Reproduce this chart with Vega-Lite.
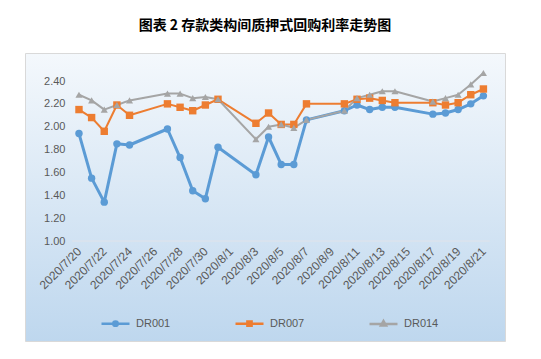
{
  "$schema": "https://vega.github.io/schema/vega-lite/v6.json",
  "autosize": {"type": "none"},
  "width": 480,
  "height": 288,
  "padding": {"left": 25, "top": 53, "right": 36, "bottom": 18},
  "background": "white",
  "title": {
    "text": "图表 2 存款类构间质押式回购利率走势图",
    "font": "Noto Sans CJK SC",
    "fontSize": 14,
    "fontWeight": "bold",
    "color": "#000000",
    "anchor": "middle",
    "offset": 20
  },
  "config": {
    "view": {
      "fill": {"gradient": "linear", "x1": 0, "y1": 0, "x2": 0, "y2": 1,
        "stops": [{"offset": 0, "color": "#F4F8FC"}, {"offset": 1, "color": "#BED7EE"}]},
      "stroke": "#D9D9D9",
      "strokeWidth": 1
    },
    "axis": {"labelFont": "Liberation Sans", "labelColor": "#595959", "domain": false, "ticks": false, "grid": false, "title": null},
    "legend": {"labelFont": "Liberation Sans", "labelColor": "#595959"}
  },
  "data": {"values": [
    {"date": "2020-07-20", "series": "DR001", "value": 1.94},
    {"date": "2020-07-21", "series": "DR001", "value": 1.55},
    {"date": "2020-07-22", "series": "DR001", "value": 1.34},
    {"date": "2020-07-23", "series": "DR001", "value": 1.85},
    {"date": "2020-07-24", "series": "DR001", "value": 1.84},
    {"date": "2020-07-27", "series": "DR001", "value": 1.98},
    {"date": "2020-07-28", "series": "DR001", "value": 1.73},
    {"date": "2020-07-29", "series": "DR001", "value": 1.44},
    {"date": "2020-07-30", "series": "DR001", "value": 1.37},
    {"date": "2020-07-31", "series": "DR001", "value": 1.82},
    {"date": "2020-08-03", "series": "DR001", "value": 1.58},
    {"date": "2020-08-04", "series": "DR001", "value": 1.91},
    {"date": "2020-08-05", "series": "DR001", "value": 1.67},
    {"date": "2020-08-06", "series": "DR001", "value": 1.67},
    {"date": "2020-08-07", "series": "DR001", "value": 2.06},
    {"date": "2020-08-10", "series": "DR001", "value": 2.14},
    {"date": "2020-08-11", "series": "DR001", "value": 2.19},
    {"date": "2020-08-12", "series": "DR001", "value": 2.15},
    {"date": "2020-08-13", "series": "DR001", "value": 2.17},
    {"date": "2020-08-14", "series": "DR001", "value": 2.17},
    {"date": "2020-08-17", "series": "DR001", "value": 2.11},
    {"date": "2020-08-18", "series": "DR001", "value": 2.12},
    {"date": "2020-08-19", "series": "DR001", "value": 2.15},
    {"date": "2020-08-20", "series": "DR001", "value": 2.20},
    {"date": "2020-08-21", "series": "DR001", "value": 2.27},
    {"date": "2020-07-20", "series": "DR007", "value": 2.15},
    {"date": "2020-07-21", "series": "DR007", "value": 2.08},
    {"date": "2020-07-22", "series": "DR007", "value": 1.96},
    {"date": "2020-07-23", "series": "DR007", "value": 2.19},
    {"date": "2020-07-24", "series": "DR007", "value": 2.10},
    {"date": "2020-07-27", "series": "DR007", "value": 2.20},
    {"date": "2020-07-28", "series": "DR007", "value": 2.17},
    {"date": "2020-07-29", "series": "DR007", "value": 2.14},
    {"date": "2020-07-30", "series": "DR007", "value": 2.19},
    {"date": "2020-07-31", "series": "DR007", "value": 2.24},
    {"date": "2020-08-03", "series": "DR007", "value": 2.03},
    {"date": "2020-08-04", "series": "DR007", "value": 2.12},
    {"date": "2020-08-05", "series": "DR007", "value": 2.02},
    {"date": "2020-08-06", "series": "DR007", "value": 2.02},
    {"date": "2020-08-07", "series": "DR007", "value": 2.20},
    {"date": "2020-08-10", "series": "DR007", "value": 2.20},
    {"date": "2020-08-11", "series": "DR007", "value": 2.24},
    {"date": "2020-08-12", "series": "DR007", "value": 2.25},
    {"date": "2020-08-13", "series": "DR007", "value": 2.23},
    {"date": "2020-08-14", "series": "DR007", "value": 2.21},
    {"date": "2020-08-17", "series": "DR007", "value": 2.21},
    {"date": "2020-08-18", "series": "DR007", "value": 2.19},
    {"date": "2020-08-19", "series": "DR007", "value": 2.21},
    {"date": "2020-08-20", "series": "DR007", "value": 2.28},
    {"date": "2020-08-21", "series": "DR007", "value": 2.33},
    {"date": "2020-07-20", "series": "DR014", "value": 2.28},
    {"date": "2020-07-21", "series": "DR014", "value": 2.23},
    {"date": "2020-07-22", "series": "DR014", "value": 2.15},
    {"date": "2020-07-23", "series": "DR014", "value": 2.19},
    {"date": "2020-07-24", "series": "DR014", "value": 2.23},
    {"date": "2020-07-27", "series": "DR014", "value": 2.29},
    {"date": "2020-07-28", "series": "DR014", "value": 2.29},
    {"date": "2020-07-29", "series": "DR014", "value": 2.25},
    {"date": "2020-07-30", "series": "DR014", "value": 2.26},
    {"date": "2020-07-31", "series": "DR014", "value": 2.24},
    {"date": "2020-08-03", "series": "DR014", "value": 1.89},
    {"date": "2020-08-04", "series": "DR014", "value": 2.00},
    {"date": "2020-08-05", "series": "DR014", "value": 2.02},
    {"date": "2020-08-06", "series": "DR014", "value": 1.99},
    {"date": "2020-08-07", "series": "DR014", "value": 2.06},
    {"date": "2020-08-10", "series": "DR014", "value": 2.14},
    {"date": "2020-08-11", "series": "DR014", "value": 2.25},
    {"date": "2020-08-12", "series": "DR014", "value": 2.28},
    {"date": "2020-08-13", "series": "DR014", "value": 2.31},
    {"date": "2020-08-14", "series": "DR014", "value": 2.31},
    {"date": "2020-08-17", "series": "DR014", "value": 2.22},
    {"date": "2020-08-18", "series": "DR014", "value": 2.25},
    {"date": "2020-08-19", "series": "DR014", "value": 2.28},
    {"date": "2020-08-20", "series": "DR014", "value": 2.37},
    {"date": "2020-08-21", "series": "DR014", "value": 2.47}
  ]},
  "encoding": {
    "x": {
      "field": "date", "type": "temporal",
      "scale": {"type": "utc", "domain": [
        {"year": 2020, "month": 7, "date": 15, "hours": 17, "minutes": 30, "utc": true},
        {"year": 2020, "month": 8, "date": 22, "hours": 17, "minutes": 0, "utc": true}
      ]},
      "axis": {
        "orient": "bottom",
        "offset": -100,
        "values": [
          {"year": 2020, "month": 7, "date": 20, "utc": true},
          {"year": 2020, "month": 7, "date": 22, "utc": true},
          {"year": 2020, "month": 7, "date": 24, "utc": true},
          {"year": 2020, "month": 7, "date": 26, "utc": true},
          {"year": 2020, "month": 7, "date": 28, "utc": true},
          {"year": 2020, "month": 7, "date": 30, "utc": true},
          {"year": 2020, "month": 8, "date": 1, "utc": true},
          {"year": 2020, "month": 8, "date": 3, "utc": true},
          {"year": 2020, "month": 8, "date": 5, "utc": true},
          {"year": 2020, "month": 8, "date": 7, "utc": true},
          {"year": 2020, "month": 8, "date": 9, "utc": true},
          {"year": 2020, "month": 8, "date": 11, "utc": true},
          {"year": 2020, "month": 8, "date": 13, "utc": true},
          {"year": 2020, "month": 8, "date": 15, "utc": true},
          {"year": 2020, "month": 8, "date": 17, "utc": true},
          {"year": 2020, "month": 8, "date": 19, "utc": true},
          {"year": 2020, "month": 8, "date": 21, "utc": true}
        ],
        "format": "%Y/%-m/%-d",
        "labelAngle": -45,
        "labelAlign": "right",
        "labelBaseline": "middle",
        "labelFontSize": 12,
        "labelPadding": 8,
        "labelOverlap": false,
        "labelBound": false,
        "labelFlush": false
      }
    },
    "y": {
      "field": "value", "type": "quantitative",
      "scale": {"domain": [0.125, 2.645], "nice": false, "zero": false},
      "axis": {
        "orient": "left",
        "offset": -48,
        "values": [1.0, 1.2, 1.4, 1.6, 1.8, 2.0, 2.2, 2.4],
        "format": ".2f",
        "labelFontSize": 11,
        "labelPadding": 8
      }
    },
    "color": {"field": "series", "type": "nominal", "scale": {"domain": ["DR001", "DR007", "DR014"], "range": ["#5B9BD5", "#ED7D31", "#A5A5A5"]},
      "legend": {
        "title": null,
        "orient": "none",
        "direction": "horizontal",
        "legendX": 75,
        "legendY": 255,
        "labelFontSize": 11,
        "labelOffset": 5,
        "columnPadding": 59,
        "symbolSize": 784,
        "symbolOpacity": 1,
        "symbolStrokeWidth": 2.5
      }
    }
  },
  "layer": [
    {
      "mark": {"type": "rule", "color": "#D9E3EE", "strokeWidth": 1},
      "encoding": {
        "x": {"datum": {"year": 2020, "month": 7, "date": 19, "hours": 12, "utc": true}, "type": "temporal"},
        "x2": {"datum": {"year": 2020, "month": 8, "date": 21, "hours": 12, "utc": true}},
        "y": {"datum": 1.0, "type": "quantitative"},
        "color": {"value": "#D9E3EE"}
      }
    },
    {
      "mark": {"type": "line", "strokeJoin": "round"},
      "encoding": {
        "strokeWidth": {"condition": {"test": "datum.series === 'DR001'", "value": 3}, "value": 2}
      }
    },
    {
      "transform": [{"filter": "datum.series === 'DR001'"}],
      "mark": {"type": "point", "shape": "circle", "filled": true, "opacity": 1, "size": 55},
      "encoding": {}
    },
    {
      "transform": [{"filter": "datum.series === 'DR007'"}],
      "mark": {"type": "point", "shape": "square", "filled": true, "opacity": 1, "size": 55},
      "encoding": {}
    },
    {
      "transform": [{"filter": "datum.series === 'DR014'"}],
      "mark": {"type": "point", "shape": "triangle-up", "filled": true, "opacity": 1, "size": 50},
      "encoding": {}
    },
    {
      "mark": {"type": "point", "filled": false, "opacity": 0, "strokeWidth": 2.5},
      "encoding": {
        "shape": {"field": "series", "type": "nominal", "legend": null,
          "scale": {"domain": ["DR001", "DR007", "DR014"], "range": [
            "M-1,0H1M-0.16,0A0.16,0.16,0,1,0,0.16,0A0.16,0.16,0,1,0,-0.16,0Z",
            "M-1,0H1M-0.15,-0.15H0.15V0.15H-0.15Z",
            "M-1,0H1M0,-0.2L0.18,0.12H-0.18Z"
          ]}
        }
      }
    }
  ]
}
